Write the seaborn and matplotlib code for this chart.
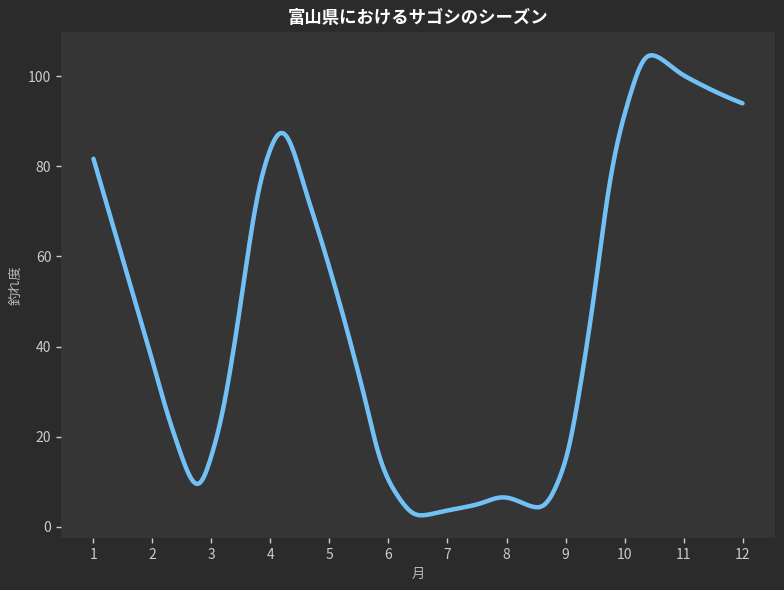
import numpy as np
import pandas as pd
import matplotlib
matplotlib.use('Agg')
import matplotlib.pyplot as plt
import seaborn as sns

# Season curve (month position, catch score)
month_pos = [1, 2, 2.34, 2.78, 3, 3.19, 3.36, 3.53, 3.7, 3.87, 4.19, 4.66, 5.06,
             5.62, 5.85, 6.08, 6.5, 7, 7.5, 7.94, 8.57, 9, 9.25, 9.5, 9.75, 10,
             10.41, 11, 12]
catch_score = [81.7, 36.8, 21.5, 8.6, 15.6, 25.2, 38.0, 52.6, 68.0, 79.0, 88.2, 71.8, 54.8,
               27.5, 15.0, 8.3, 2.4, 3.6, 4.9, 6.6, 4.1, 14.2, 31.1, 52.6, 77.0, 91.7,
               105.0, 100.2, 94.0]
month_ticks = list(range(1, 13))

title = "富山県におけるサゴシのシーズン"
xlabel = "月"
ylabel = "釣れ度"


def pchip(x, y, xs):
    # monotone cubic through the points
    x = np.asarray(x, float)
    y = np.asarray(y, float)
    h = np.diff(x)
    d = np.diff(y) / h
    n = len(x)
    m = np.zeros(n)
    for k in range(1, n - 1):
        if d[k - 1] * d[k] > 0:
            w1 = 2 * h[k] + h[k - 1]
            w2 = h[k] + 2 * h[k - 1]
            m[k] = (w1 + w2) / (w1 / d[k - 1] + w2 / d[k])

    def end(h0, h1, d0, d1):
        s = ((2 * h0 + h1) * d0 - h0 * d1) / (h0 + h1)
        if np.sign(s) != np.sign(d0):
            return 0.0
        if np.sign(d0) != np.sign(d1) and abs(s) > 3 * abs(d0):
            return 3 * d0
        return s

    m[0] = end(h[0], h[1], d[0], d[1])
    m[-1] = end(h[-1], h[-2], d[-1], d[-2])
    idx = np.clip(np.searchsorted(x, xs) - 1, 0, n - 2)
    t = (xs - x[idx]) / h[idx]
    h00 = 2 * t**3 - 3 * t**2 + 1
    h10 = t**3 - 2 * t**2 + t
    h01 = -2 * t**3 + 3 * t**2
    h11 = t**3 - t**2
    return (h00 * y[idx] + h10 * h[idx] * m[idx]
            + h01 * y[idx + 1] + h11 * h[idx] * m[idx + 1])


def soften(vals, sigma):
    # gaussian blur to take the corners off, odd reflection at the ends
    k = int(4 * sigma)
    g = np.exp(-0.5 * (np.arange(-k, k + 1) / sigma) ** 2)
    g /= g.sum()
    left = 2 * vals[0] - vals[1:k + 1][::-1]
    right = 2 * vals[-1] - vals[-k - 1:-1][::-1]
    return np.convolve(np.concatenate([left, vals, right]), g, mode='valid')


xs = np.linspace(month_pos[0], month_pos[-1], 1101)
ys = soften(pchip(month_pos, catch_score, xs), sigma=8)
df = pd.DataFrame({"月": xs, "釣れ度": ys})

sns.set_theme(style="dark")
plt.rcParams['font.family'] = ['Noto Sans CJK JP', 'DejaVu Sans']
plt.rcParams['axes.unicode_minus'] = False

fig, ax = plt.subplots(figsize=(7.84, 5.90), dpi=100)
fig.patch.set_facecolor('#2b2b2b')
ax.set_facecolor('#353535')

sns.lineplot(data=df, x="月", y="釣れ度", ax=ax, color='#72c1f6', linewidth=3.2)

ax.set_xticks(month_ticks)
ax.set_title(title, color='white', fontsize=12.5, fontweight='bold', pad=7)
ax.set_xlabel(xlabel, color='#bbbbbb', fontsize=9.5)
ax.set_ylabel(ylabel, color='#bbbbbb', fontsize=9.5)
ax.tick_params(colors='#cccccc', labelsize=10, length=3.5, width=1,
               direction='out', bottom=True, left=True)
for s in ax.spines.values():
    s.set_visible(False)
ax.grid(False)

plt.subplots_adjust(left=0.0778, right=0.9885, top=0.9453, bottom=0.0876)
plt.savefig("out.png", dpi=100, facecolor=fig.get_facecolor())
